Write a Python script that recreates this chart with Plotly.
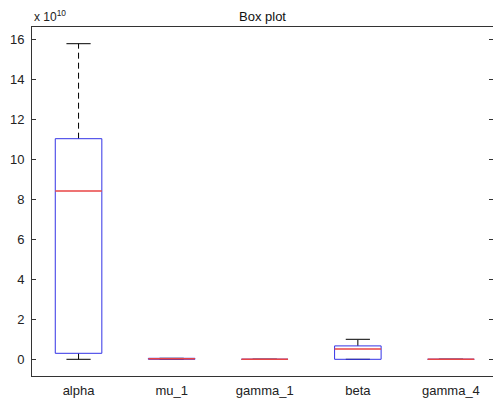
import plotly.graph_objects as go

# Data (values in units of 1e10)
categories = ["alpha", "mu_1", "gamma_1", "beta", "gamma_4"]
lower_whisker = [0.0, 0.0, 0.0, 0.0, 0.0]
q1 = [0.30, 0.0, 0.0, 0.0, 0.0]
median = [8.42, 0.03, 0.0, 0.52, 0.0]
q3 = [11.03, 0.05, 0.0, 0.67, 0.0]
upper_whisker = [15.78, 0.05, 0.0, 1.00, 0.0]
y_ticks = [0, 2, 4, 6, 8, 10, 12, 14, 16]

positions = list(range(1, len(categories) + 1))
BOX_HALF = 0.25
CAP_HALF = 0.13

def segs(pairs):
    xs, ys = [], []
    for (x0, y0, x1, y1) in pairs:
        xs += [x0, x1, None]
        ys += [y0, y1, None]
    return xs, ys

# whiskers
wx, wy = segs([(p, q3[i], p, upper_whisker[i]) for i, p in enumerate(positions)] +
              [(p, lower_whisker[i], p, q1[i]) for i, p in enumerate(positions)])
# caps
cx, cy = segs([(p - CAP_HALF, upper_whisker[i], p + CAP_HALF, upper_whisker[i]) for i, p in enumerate(positions)] +
              [(p - CAP_HALF, lower_whisker[i], p + CAP_HALF, lower_whisker[i]) for i, p in enumerate(positions)])
# boxes
bx, by = [], []
for i, p in enumerate(positions):
    bx += [p - BOX_HALF, p + BOX_HALF, p + BOX_HALF, p - BOX_HALF, p - BOX_HALF, None]
    by += [q1[i], q1[i], q3[i], q3[i], q1[i], None]
# medians
mx, my = segs([(p - BOX_HALF, median[i], p + BOX_HALF, median[i]) for i, p in enumerate(positions)])

fig = go.Figure()
fig.add_trace(go.Scatter(x=wx, y=wy, mode="lines", line=dict(color="black", width=1, dash="6px,4px"),
                         hoverinfo="skip", showlegend=False))
fig.add_trace(go.Scatter(x=cx, y=cy, mode="lines", line=dict(color="black", width=1),
                         hoverinfo="skip", showlegend=False))
fig.add_trace(go.Scatter(x=bx, y=by, mode="lines", line=dict(color="#3333e6", width=1),
                         hoverinfo="skip", showlegend=False))
fig.add_trace(go.Scatter(x=mx, y=my, mode="lines", line=dict(color="#e84545", width=1.5),
                         hoverinfo="skip", showlegend=False))
fig.add_trace(go.Scatter(x=[None], y=[None], yaxis="y2", showlegend=False, hoverinfo="skip"))

font_family = "Liberation Sans, Arial, sans-serif"
fig.update_layout(
    width=493, height=399,
    margin=dict(l=32, r=0, t=27, b=23),
    paper_bgcolor="white", plot_bgcolor="white",
    font=dict(family=font_family, size=12, color="#222"),
    title=dict(text="Box plot", x=0.5, xanchor="center", xref="paper",
               y=1, yref="paper", yanchor="bottom", pad=dict(b=6),
               font=dict(size=13, color="#111")),
    xaxis=dict(range=[0.5, 0.5 + 461 / 93.1], tickvals=positions, ticktext=categories,
               showgrid=False, zeroline=False, showline=True, linecolor="#333", linewidth=1,
               mirror=True, ticks="", tickfont=dict(size=13), ticklabelstandoff=2),
    yaxis=dict(range=[-0.835, 16.615], tickvals=y_ticks, showgrid=False, zeroline=False,
               showline=True, linecolor="#333", linewidth=1, ticks="inside", ticklen=4,
               tickcolor="#333", tickfont=dict(size=13), ticklabelstandoff=4),
    yaxis2=dict(range=[-0.835, 16.615], overlaying="y", side="right", tickvals=y_ticks,
                showticklabels=False, showgrid=False, zeroline=False, showline=False,
                ticks="inside", ticklen=4, tickcolor="#333"),
    annotations=[dict(text="x 10<sup>10</sup>", xref="paper", yref="paper", x=0, y=1,
                      xanchor="left", yanchor="bottom", yshift=1, showarrow=False,
                      font=dict(size=12, color="#222"))],
)

fig.write_html("out.html")
